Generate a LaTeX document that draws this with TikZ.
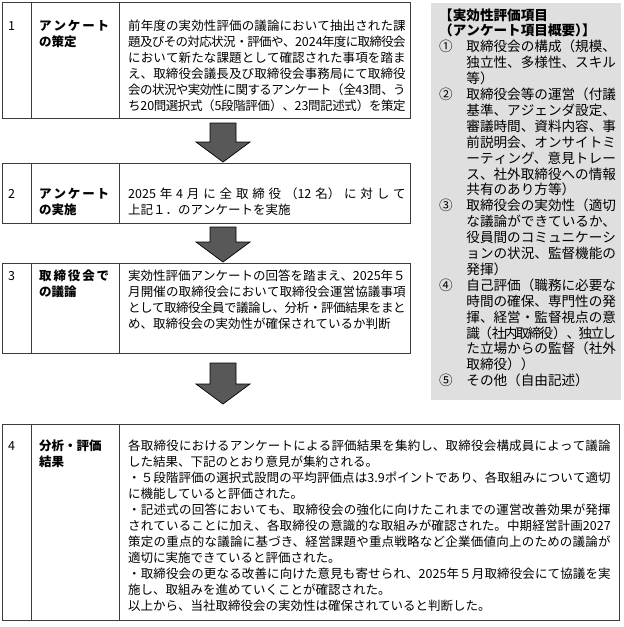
\documentclass[tikz,border=0pt]{standalone}
\usepackage{fontspec}
\setmainfont{Noto Sans CJK JP}
\usepackage{tikz}
\usetikzlibrary{calc}
\XeTeXlinebreaklocale "ja"
\XeTeXlinebreakskip=0pt plus 4pt minus 2pt
\definecolor{rulegray}{HTML}{3C3C3C}
\definecolor{panelgray}{HTML}{DFDFDF}
\definecolor{arrowgray}{HTML}{585858}
\newcommand{\evalitem}[2]{\par\noindent\hangindent=2em\hangafter=1\makebox[2em][l]{#1}#2}
\newcommand{\spreadtitle}[1]{\makebox[70pt][s]{#1}}

\begin{document}
\begin{tikzpicture}[x=1pt,y=-1pt,
  cell/.style n args={2}{draw=rulegray,line width=0.9pt,rectangle,anchor=north west,inner sep=0pt,minimum width=#1,minimum height=#2},
  numtext/.style={anchor=base west,inner sep=0pt,font=\fontsize{12.5}{16}\selectfont},
  celltext/.style={numtext,align=justify,text width=#1},
  headtext/.style={celltext=70pt,font=\fontsize{12.5}{16}\selectfont\bfseries},
  panel/.style={fill=panelgray,rectangle,anchor=north west,inner sep=0pt,minimum width=190,minimum height=397},
  blockarrow/.style={draw=black,fill=arrowgray,line width=0.7pt,line join=miter}]
\useasboundingbox (0,0) rectangle (624,627);
\foreach \r/\rowy/\rowh/\roww/\rowb in %
{1/2/116/291/28,2/163/60/291/35,3/263/90/291/17,4/424/196/500/26} {
   \node[cell={29}{\rowh}] (num\r) at (2,\rowy) {};
   \node[cell={88}{\rowh}] (head\r) at (31,\rowy) {};
   \node[cell={\roww}{\rowh}] (body\r) at (119,\rowy) {};
   \node[numtext] (no\r) at ([shift={(6,\rowb)}]num\r.north west) {\r};
}
\node[headtext] (title1) at ([shift={(8,28)}]head1.north west) {\spreadtitle{ア\hfill ン\hfill ケ\hfill ー\hfill ト}\\の策定};
\node[celltext=277.5pt] (text1) at ([shift={(9,28)}]body1.north west) {前年度の実効性評価の議論において抽出された課\linebreak
題及びその対応状況・評価や、2024年度に取締役会\linebreak
において新たな課題として確認された事項を踏ま\linebreak
え、取締役会議長及び取締役会事務局にて取締役\linebreak
会の状況や実効性に関するアンケート（全43問、う\linebreak
ち20問選択式（5段階評価）、23問記述式）を策定};
\node[headtext] (title2) at ([shift={(8,35)}]head2.north west) {\spreadtitle{ア\hfill ン\hfill ケ\hfill ー\hfill ト}\\の実施};
\node[celltext=277.5pt] (text2) at ([shift={(9,35)}]body2.north west) {2025年4月に全取締役（12名）に対して\linebreak
上記１．のアンケートを実施};
\node[headtext] (title3) at ([shift={(8,17)}]head3.north west) {\spreadtitle{取\hfill 締\hfill 役\hfill 会\hfill で}\\の議論};
\node[celltext=277.5pt] (text3) at ([shift={(9,17)}]body3.north west) {実効性評価アンケートの回答を踏まえ、2025年５\linebreak
月開催の取締役会において取締役会運営協議事項\linebreak
として取締役全員で議論し、分析・評価結果をまと\linebreak
め、取締役会の実効性が確保されているか判断};
\node[headtext] (title4) at ([shift={(8,26)}]head4.north west) {分析・評価\\結果};
\node[celltext=482.5pt] (text4) at ([shift={(9,26)}]body4.north west) {各取締役におけるアンケートによる評価結果を集約し、取締役会構成員によって議論\linebreak
した結果、下記のとおり意見が集約される。\par
・５段階評価の選択式設問の平均評価点は3.9ポイントであり、各取組みについて適切\linebreak
に機能していると評価された。\par
・記述式の回答においても、取締役会の強化に向けたこれまでの運営改善効果が発揮\linebreak
されていることに加え、各取締役の意識的な取組みが確認された。中期経営計画2027\linebreak
策定の重点的な議論に基づき、経営課題や重点戦略など企業価値向上のための議論が\linebreak
適切に実施できていると評価された。\par
・取締役会の更なる改善に向けた意見も寄せられ、2025年５月取締役会にて協議を実\linebreak
施し、取組みを進めていくことが確認された。\par
以上から、当社取締役会の実効性は確保されていると判断した。};
\foreach \i/\j/\ys/\yt in %
{1/2/123/162,2/3/227/262,3/4/363/404} {
   \coordinate (from\i) at (223,\ys);
   \coordinate (to\j) at (223,\yt);
   \draw[blockarrow] let \p1=(from\i), \p2=(to\j) in
      (\x1-13pt,\y1) -- (\x1+13pt,\y1) -- (\x1+13pt,\y2+20pt) -- (\x1+27pt,\y2+20pt)
      -- (\p2) -- (\x1-27pt,\y2+20pt) -- (\x1-13pt,\y2+20pt) -- cycle;
}
\node[panel] (items) at (431,3) {};
\node[celltext=176.8pt,font=\fontsize{13.6}{15.9}\selectfont] (itemlist) at ([shift={(8,17)}]items.north west) {{\bfseries 【実効性評価項目\\（アンケート項目概要）\hspace{-.5em}】\par}
\evalitem{①}{取締役会の構成（規模、\linebreak 独立性、多様性、スキル\linebreak 等）}
\evalitem{②}{取締役会等の運営（付議\linebreak 基準、アジェンダ設定、\linebreak 審議時間、資料内容、事\linebreak 前説明会、オンサイトミ\linebreak ーティング、意見トレー\linebreak ス、社外取締役への情報\linebreak 共有のあり方等）}
\evalitem{③}{取締役会の実効性（適切\linebreak な議論ができているか、\linebreak 役員間のコミュニケーシ\linebreak ョンの状況、監督機能の\linebreak 発揮）}
\evalitem{④}{自己評価（職務に必要な\linebreak 時間の確保、専門性の発\linebreak 揮、経営・監督視点の意\linebreak 識（社内取締役）、独立し\linebreak た立場からの監督（社外\linebreak 取締役））}
\evalitem{⑤}{その他（自由記述）}};
\end{tikzpicture}
\end{document}
